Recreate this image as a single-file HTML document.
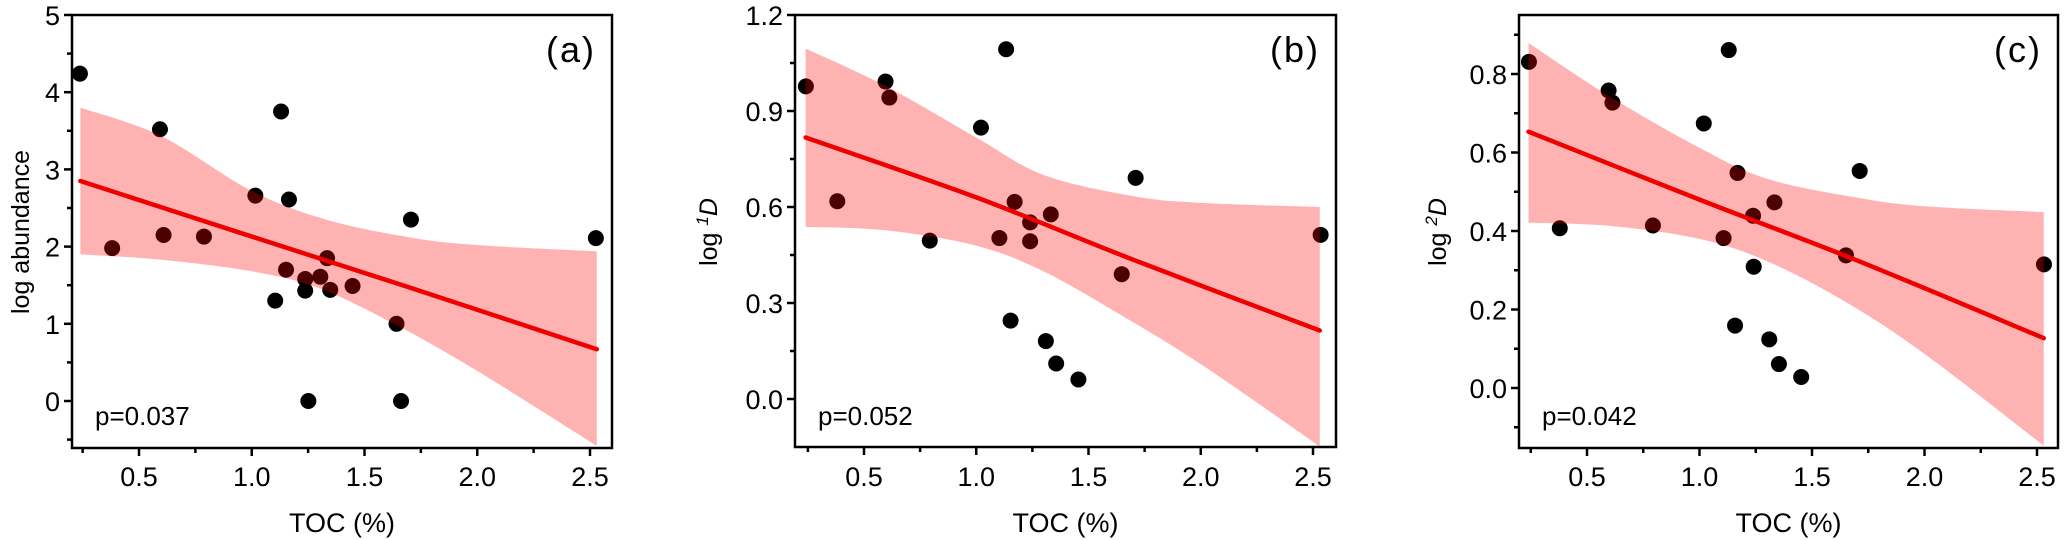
<!DOCTYPE html>
<html><head><meta charset="utf-8"><style>
html,body{margin:0;padding:0;background:#fff;}
svg{display:block;font-family:"Liberation Sans",Arial,sans-serif;}
</style></head><body>
<svg id="chart" width="2067" height="540" viewBox="0 0 2067 540" xmlns="http://www.w3.org/2000/svg"></svg>
<script>
const aX=[0.238,0.593,1.13,1.016,1.165,1.706,2.526,0.381,0.609,0.788,1.334,1.152,1.237,1.304,1.237,1.348,1.447,1.104,1.642,1.251,1.662];
const aY=[4.24,3.52,3.75,2.66,2.61,2.35,2.11,1.98,2.15,2.13,1.85,1.70,1.58,1.61,1.43,1.44,1.49,1.30,1.00,0,0];
const aFitX=[0.24,1.0,1.7,2.53];
const aFitY=[2.85,2.13,1.47,0.67];
const aBandX=[0.24,0.6,1.0,1.33,1.7,2.0,2.53];
const aUpper=[3.80,3.43,2.72,2.35,2.12,2.02,1.94];
const aBandXL=[0.24,0.6,1.0,1.3,1.65,2.0,2.53];
const aLower=[1.90,1.83,1.68,1.46,0.97,0.39,-0.58];

const bX=[0.241,0.596,0.613,1.133,1.021,1.71,0.381,0.793,1.171,1.332,1.240,1.103,1.240,1.648,2.534,1.153,1.310,1.356,1.455];
const bY=[0.977,0.992,0.942,1.093,0.848,0.691,0.618,0.495,0.616,0.577,0.552,0.503,0.493,0.390,0.513,0.245,0.181,0.111,0.061];
const bFitX=[0.24,1.0,1.7,2.53];
const bFitY=[0.817,0.63,0.435,0.214];
const bBandX=[0.24,0.6,1.0,1.3,1.7,2.0,2.53];
const bUpper=[1.095,0.977,0.817,0.70,0.634,0.613,0.60];
const bBandXL=[0.24,0.6,1.0,1.3,1.65,2.0,2.53];
const bLower=[0.538,0.527,0.479,0.399,0.26,0.109,-0.148];

const cX=[0.242,0.596,0.613,1.130,1.019,1.712,1.169,0.379,0.793,1.333,1.238,1.107,1.241,1.651,2.531,1.158,1.310,1.353,1.452];
const cY=[0.831,0.758,0.727,0.861,0.674,0.553,0.548,0.407,0.414,0.473,0.439,0.382,0.309,0.338,0.315,0.159,0.124,0.061,0.028];
const cFitX=[0.24,1.0,1.7,2.53];
const cFitY=[0.653,0.48,0.325,0.127];
const cBandX=[0.24,0.6,1.0,1.3,1.7,2.0,2.53];
const cUpper=[0.879,0.743,0.612,0.533,0.485,0.463,0.448];
const cBandXL=[0.24,0.6,1.0,1.3,1.65,2.0,2.53];
const cLower=[0.421,0.413,0.380,0.323,0.219,0.087,-0.147];

const xTicks=[0.5,1.0,1.5,2.0,2.5];
const xTickLabels=["0.5","1.0","1.5","2.0","2.5"];
const xMinor=[0.25,0.75,1.25,1.75,2.25];
const aYTicks=[0,1,2,3,4,5];
const aYLabels=["0","1","2","3","4","5"];
const aYMinor=[-0.5,0.5,1.5,2.5,3.5,4.5];
const bYTicks=[0,0.3,0.6,0.9,1.2];
const bYLabels=["0.0","0.3","0.6","0.9","1.2"];
const bYMinor=[-0.15,0.15,0.45,0.75,1.05];
const cYTicks=[0,0.2,0.4,0.6,0.8];
const cYLabels=["0.0","0.2","0.4","0.6","0.8"];
const cYMinor=[-0.1,0.1,0.3,0.5,0.7,0.9];

const NS="http://www.w3.org/2000/svg";
const svg=document.getElementById('chart');
function mk(tag,attrs,parent){const e=document.createElementNS(NS,tag);for(const k in attrs)e.setAttribute(k,attrs[k]);(parent||svg).appendChild(e);return e;}
function smooth(pts,cont){
  let d=(cont?'L':'M')+pts[0][0]+','+pts[0][1];
  for(let i=0;i<pts.length-1;i++){
    const p0=pts[i-1]||pts[i],p1=pts[i],p2=pts[i+1],p3=pts[i+2]||p2;
    const c1=[p1[0]+(p2[0]-p0[0])/6,p1[1]+(p2[1]-p0[1])/6];
    const c2=[p2[0]-(p3[0]-p1[0])/6,p2[1]-(p3[1]-p1[1])/6];
    d+='C'+c1[0]+','+c1[1]+' '+c2[0]+','+c2[1]+' '+p2[0]+','+p2[1];
  }
  return d;
}

const panels=[
 {id:'a',left:72,right:612,x05:139,x25:590,top:15,bottom:448,y0v:0,y0:401,y1v:5,y1:15,
  px:aX,py:aY,fx:aFitX,fy:aFitY,bx:aBandX,bu:aUpper,bxl:aBandXL,bl:aLower,
  yt:aYTicks,yl:aYLabels,ym:aYMinor,title:'log abundance',titleX:20,p:'p=0.037',tag:'(a)'},
 {id:'b',left:795,right:1336,x05:864,x25:1313,top:15,bottom:447,y0v:0,y0:399,y1v:1.2,y1:15,
  px:bX,py:bY,fx:bFitX,fy:bFitY,bx:bBandX,bu:bUpper,bxl:bBandXL,bl:bLower,
  yt:bYTicks,yl:bYLabels,ym:bYMinor,title:'1',titleX:708,p:'p=0.052',tag:'(b)'},
 {id:'c',left:1519,right:2058,x05:1587,x25:2037,top:15,bottom:448,y0v:0,y0:388,y1v:0.8,y1:74,
  px:cX,py:cY,fx:cFitX,fy:cFitY,bx:cBandX,bu:cUpper,bxl:cBandXL,bl:cLower,
  yt:cYTicks,yl:cYLabels,ym:cYMinor,title:'2',titleX:1437,p:'p=0.042',tag:'(c)'}
];

panels.forEach(P=>{
  const xs=v=>P.x05+(v-0.5)*(P.x25-P.x05)/2;
  const ys=v=>P.y0+(v-P.y0v)*(P.y1-P.y0)/(P.y1v-P.y0v);
  const g=mk('g',{});
  
  
  const cid='clip-'+P.id;
  const cp=mk('clipPath',{id:cid},g);
  mk('rect',{x:P.left,y:P.top,width:P.right-P.left,height:P.bottom-P.top},cp);
  const pg=mk('g',{'clip-path':'url(#'+cid+')'},g);
  P.px.forEach((v,i)=>{
    const c=mk('circle',{cx:xs(v),cy:ys(P.py[i]),r:8,fill:'#000'},pg);
    
    
  });
  const up=P.bx.map((v,i)=>[xs(v),ys(P.bu[i])]);
  const lo=P.bxl.map((v,i)=>[xs(v),ys(P.bl[i])]).reverse();
  const d=smooth(up,false)+smooth(lo,true)+'Z';
  const band=mk('path',{d:d,fill:'rgb(255,0,0)','fill-opacity':0.3},pg);
  
  
  const fl=P.fx.map((v,i)=>[xs(v),ys(P.fy[i])]);
  const line=mk('path',{d:smooth(fl,false),fill:'none',stroke:'#ee0000','stroke-width':4.5,'stroke-linecap':'round'},pg);
  
  
  const fr=mk('rect',{x:P.left,y:P.top,width:P.right-P.left,height:P.bottom-P.top,fill:'none',stroke:'#000','stroke-width':2.5},g);
  
  
  xTicks.forEach((v,i)=>{
    mk('line',{x1:xs(v),x2:xs(v),y1:P.bottom,y2:P.bottom+8,stroke:'#000','stroke-width':2.5},g);
    const t=mk('text',{x:xs(v),y:486,'font-size':27,'text-anchor':'middle',fill:'#000'},g);
    t.textContent=xTickLabels[i];
    
    
  });
  xMinor.forEach(v=>{mk('line',{x1:xs(v),x2:xs(v),y1:P.bottom,y2:P.bottom+5,stroke:'#000','stroke-width':2.5},g);});
  P.yt.forEach((v,i)=>{
    mk('line',{x1:P.left-8,x2:P.left,y1:ys(v),y2:ys(v),stroke:'#000','stroke-width':2.5},g);
    const t=mk('text',{x:P.left-12,y:ys(v)+10,'font-size':27,'text-anchor':'end',fill:'#000'},g);
    t.textContent=P.yl[i];
    
    
  });
  P.ym.forEach(v=>{const y=ys(v);if(y>P.top&&y<P.bottom)mk('line',{x1:P.left-5,x2:P.left,y1:y,y2:y,stroke:'#000','stroke-width':2.5},g);});
  const xt=mk('text',{x:(P.left+P.right)/2,y:532,'font-size':27,'text-anchor':'middle',fill:'#000'},g);
  xt.textContent='TOC (%)';
  
  
  const yt=mk('text',{x:0,y:0,'font-size':25,'text-anchor':'middle',fill:'#000',transform:'translate('+(P.titleX+9)+',232) rotate(-90)'},g);
  
  
  if(P.id==='a'){yt.textContent=P.title;}
  else{
    const s1=mk('tspan',{},yt);s1.textContent='log ';
    const s2=mk('tspan',{'font-size':17,dy:-9,'font-style':'italic'},yt);s2.textContent=P.title;
    const s3=mk('tspan',{dy:9,'font-style':'italic'},yt);s3.textContent='D';
  }
  const pv=mk('text',{x:P.left+23,y:425,'font-size':26,fill:'#000'},g);
  pv.textContent=P.p;
  
  
  const tg=mk('text',{x:P.right-16,y:62,'font-size':36,'text-anchor':'end',fill:'#000','letter-spacing':2},g);
  tg.textContent=P.tag;
  
  
});
</script>
</body></html>
